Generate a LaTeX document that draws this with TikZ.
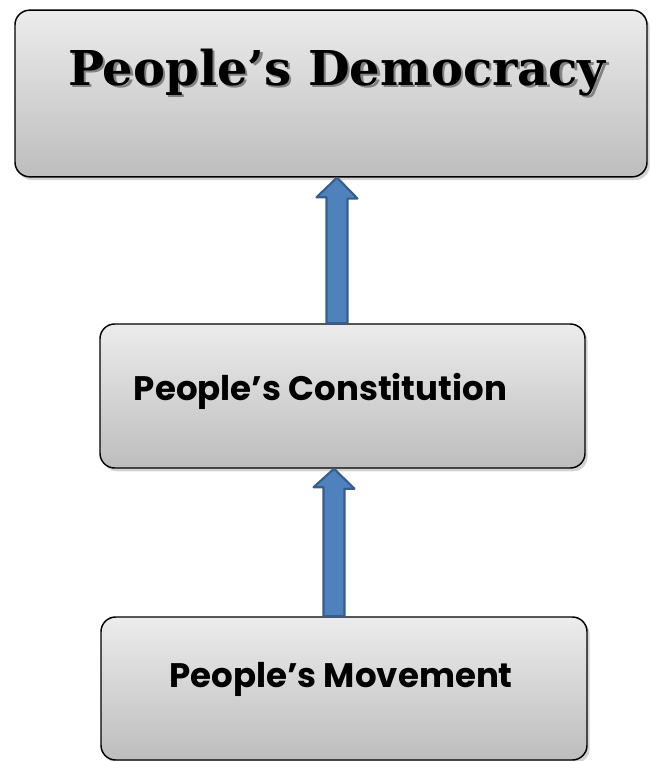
\documentclass[tikz,border=0pt]{standalone}
\usepackage{fontspec}
\setsansfont{Poppins}
\newfontfamily\slabfont{DejaVu Serif}
\usepackage{tikz}
\usetikzlibrary{shadows, calc}
\definecolor{boxtop}{RGB}{236, 236, 236}
\definecolor{boxbottom}{RGB}{189, 189, 189}
\definecolor{arrowfill}{RGB}{79, 129, 189}
\definecolor{arrowdraw}{RGB}{56, 93, 138}
\definecolor{titleshadow}{RGB}{130, 130, 130}

\begin{document}
\begin{tikzpicture}[
    x=0.75pt, y=-0.75pt,
    stage/.style={
        rectangle,
        rounded corners=11pt,
        draw=black,
        line width=1.1pt,
        top color=boxtop,
        bottom color=boxbottom,
        drop shadow={shadow xshift=2pt, shadow yshift=-2.5pt, opacity=0.35}
    },
    stagetext/.style={
        anchor=base,
        font=\sffamily\bfseries\fontsize{25.5}{30}\selectfont
    },
    titletext/.style={
        anchor=base,
        font=\slabfont\bfseries\fontsize{36}{42}\selectfont
    },
    blockarrow/.style={
        fill=arrowfill,
        draw=arrowdraw,
        line width=1.6pt,
        line join=round
    }
]
    \useasboundingbox (0, 0) rectangle (651, 761);

    % Boxes
    \node[stage, minimum width=474pt, minimum height=125pt] (demo) at (331, 93.5) {};
    \node[stage, minimum width=363.75pt, minimum height=108pt] (cons) at (342.5, 396) {};
    \node[stage, minimum width=364.5pt, minimum height=107.25pt] (move) at (344, 688.5) {};

    % Box texts
    \node[titletext, text=titleshadow] (demoshadow) at (339.5, 87.5) {People’s Democracy};
    \node[titletext] (demotext) at (337, 85) {People’s Democracy};
    \node[stagetext] (constext) at (320.5, 400) {People’s Constitution};
    \node[stagetext] (movetext) at (341, 687) {People’s Movement};

    % Block arrows
    \draw[blockarrow] ($(cons.north)+(-16, 0)$) -- ++(0, -126) -- ++(-10, 0)
        -- ($(demo.south)+(6, 0)$) -- ++(20.5, 21) -- ++(-10, 0)
        -- ($(cons.north)+(5, 0)$) -- cycle;
    \draw[blockarrow] ($(move.north)+(-20.5, 0)$) -- ++(0, -129) -- ++(-10, 0)
        -- ($(cons.south)+(-8.5, 0)$) -- ++(20.5, 20) -- ++(-10, 0)
        -- ($(move.north)+(0.5, 0)$) -- cycle;
\end{tikzpicture}
\end{document}
